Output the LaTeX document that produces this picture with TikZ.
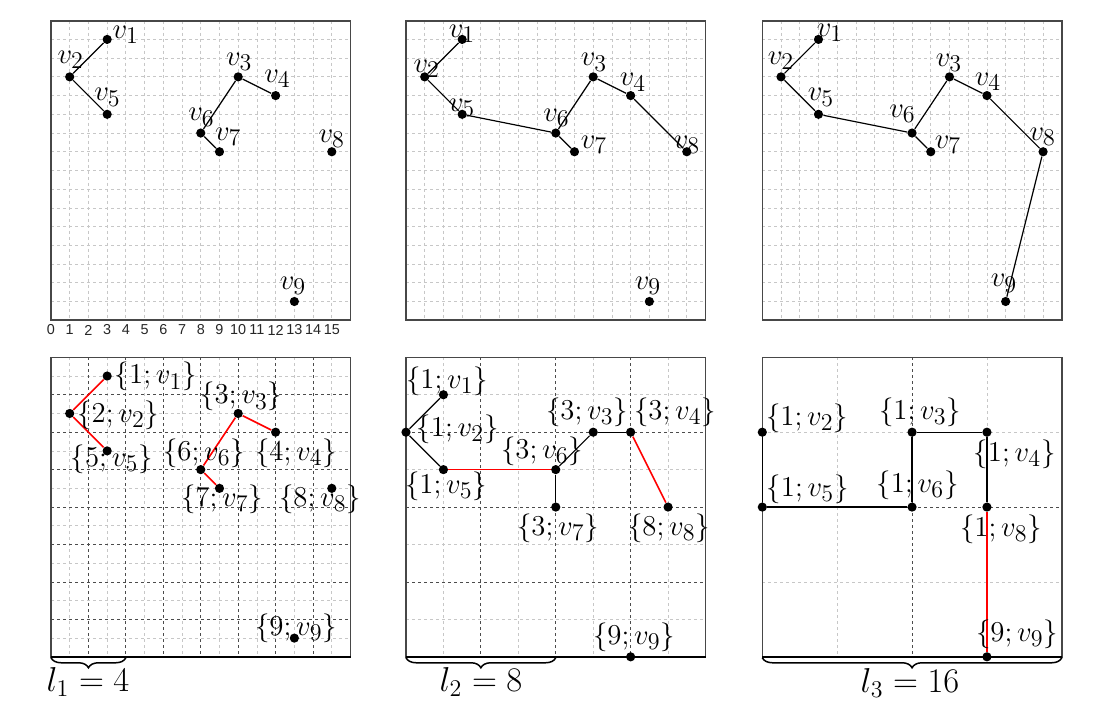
\documentclass[tikz,border=0pt]{standalone}
\usepackage{fontspec}
\newfontfamily\axfont{Liberation Sans}
\DeclareMathSizes{15.5}{15.5}{12}{9}
\DeclareMathSizes{16}{16}{12.5}{9.5}
\usetikzlibrary{decorations.pathreplacing}
\begin{document}
\begin{tikzpicture}[x=0.5pt,y=-0.5pt,
  dot/.style={circle,fill=black,inner sep=0pt,minimum size=4.6pt},
  lgrid/.style={draw=black!22,dash pattern=on 1.5pt off 1.5pt,line width=0.4pt},
  dgrid/.style={draw=black!70,dash pattern=on 1.5pt off 1.5pt,line width=0.4pt},
  frame/.style={draw=black!72,line width=0.8pt},
  bedge/.style={draw=black,line width=0.6pt},
  redge/.style={draw=red,line width=0.8pt},
  vlab/.style={inner sep=0pt,font={\fontsize{15.5}{18}\selectfont}},
  axlab/.style={inner sep=0pt,font={\axfont\fontsize{7.2}{8}\selectfont},text=black!85},
  brc/.style={decorate,decoration={brace,amplitude=5pt,mirror},line width=0.75pt},
  llab/.style={inner sep=0pt,font={\fontsize{16}{19}\selectfont}}
]
\useasboundingbox (0,0) rectangle (1115,708);

% ---------------- top-left ----------------
\begin{scope}[shift={(51,20.7)},x=9.36pt,y=-9.36pt]
  \foreach \i in {1,...,15} {\draw[lgrid] (\i,0) -- (\i,16); \draw[lgrid] (0,\i) -- (16,\i);}
  \draw[frame] (0,0) rectangle (16,16);
  \node[dot] (ta1) at (3,1) {};
  \node[dot] (ta2) at (1,3) {};
  \node[dot] (ta3) at (10,3) {};
  \node[dot] (ta4) at (12,4) {};
  \node[dot] (ta5) at (3,5) {};
  \node[dot] (ta6) at (8,6) {};
  \node[dot] (ta7) at (9,7) {};
  \node[dot] (ta8) at (15,7) {};
  \node[dot] (ta9) at (13,15) {};
  \draw[bedge] (ta1) -- (ta2);
  \draw[bedge] (ta2) -- (ta5);
  \draw[bedge] (ta3) -- (ta4);
  \draw[bedge] (ta3) -- (ta6);
  \draw[bedge] (ta6) -- (ta7);
\end{scope}
\foreach \k in {0,...,15} {\node[axlab] (ax\k) at ({51+18.72*\k},330) {\k};}
\node[vlab] (ta1l) at (125.8,34.7) {$v_1$};
\node[vlab] (ta2l) at (70.8,60) {$v_2$};
\node[vlab] (ta5l) at (107.5,97.5) {$v_5$};
\node[vlab] (ta3l) at (239.2,61.7) {$v_3$};
\node[vlab] (ta4l) at (277.5,79) {$v_4$};
\node[vlab] (ta6l) at (201.5,117.5) {$v_6$};
\node[vlab] (ta7l) at (228.3,136.7) {$v_7$};
\node[vlab] (ta8l) at (331.7,139) {$v_8$};
\node[vlab] (ta9l) at (293,285.8) {$v_9$};

% ---------------- top-middle ----------------
\begin{scope}[shift={(406,20.7)},x=9.36pt,y=-9.36pt]
  \foreach \i in {1,...,15} {\draw[lgrid] (\i,0) -- (\i,16); \draw[lgrid] (0,\i) -- (16,\i);}
  \draw[frame] (0,0) rectangle (16,16);
  \node[dot] (tb1) at (3,1) {};
  \node[dot] (tb2) at (1,3) {};
  \node[dot] (tb3) at (10,3) {};
  \node[dot] (tb4) at (12,4) {};
  \node[dot] (tb5) at (3,5) {};
  \node[dot] (tb6) at (8,6) {};
  \node[dot] (tb7) at (9,7) {};
  \node[dot] (tb8) at (15,7) {};
  \node[dot] (tb9) at (13,15) {};
  \draw[bedge] (tb1) -- (tb2);
  \draw[bedge] (tb2) -- (tb5);
  \draw[bedge] (tb5) -- (tb6);
  \draw[bedge] (tb6) -- (tb3);
  \draw[bedge] (tb3) -- (tb4);
  \draw[bedge] (tb4) -- (tb8);
  \draw[bedge] (tb6) -- (tb7);
\end{scope}
\node[vlab] (tb1l) at (462,34) {$v_1$};
\node[vlab] (tb2l) at (426.7,69) {$v_2$};
\node[vlab] (tb5l) at (462,108) {$v_5$};
\node[vlab] (tb6l) at (556.5,118) {$v_6$};
\node[vlab] (tb7l) at (594,145) {$v_7$};
\node[vlab] (tb3l) at (594,62.5) {$v_3$};
\node[vlab] (tb4l) at (633,82.5) {$v_4$};
\node[vlab] (tb8l) at (687,145) {$v_8$};
\node[vlab] (tb9l) at (648,286) {$v_9$};

% ---------------- top-right ----------------
\begin{scope}[shift={(762.3,20.7)},x=9.36pt,y=-9.36pt]
  \foreach \i in {1,...,15} {\draw[lgrid] (\i,0) -- (\i,16); \draw[lgrid] (0,\i) -- (16,\i);}
  \draw[frame] (0,0) rectangle (16,16);
  \node[dot] (tc1) at (3,1) {};
  \node[dot] (tc2) at (1,3) {};
  \node[dot] (tc3) at (10,3) {};
  \node[dot] (tc4) at (12,4) {};
  \node[dot] (tc5) at (3,5) {};
  \node[dot] (tc6) at (8,6) {};
  \node[dot] (tc7) at (9,7) {};
  \node[dot] (tc8) at (15,7) {};
  \node[dot] (tc9) at (13,15) {};
  \draw[bedge] (tc1) -- (tc2);
  \draw[bedge] (tc2) -- (tc5);
  \draw[bedge] (tc5) -- (tc6);
  \draw[bedge] (tc6) -- (tc3);
  \draw[bedge] (tc3) -- (tc4);
  \draw[bedge] (tc4) -- (tc8);
  \draw[bedge] (tc8) -- (tc9);
  \draw[bedge] (tc6) -- (tc7);
\end{scope}
\node[vlab] (tc1l) at (830,33) {$v_1$};
\node[vlab] (tc2l) at (781,61) {$v_2$};
\node[vlab] (tc5l) at (821,97.5) {$v_5$};
\node[vlab] (tc6l) at (902.5,114) {$v_6$};
\node[vlab] (tc7l) at (948,145) {$v_7$};
\node[vlab] (tc3l) at (949,63) {$v_3$};
\node[vlab] (tc4l) at (988,82) {$v_4$};
\node[vlab] (tc8l) at (1042.7,136.7) {$v_8$};
\node[vlab] (tc9l) at (1004,283.3) {$v_9$};

% ---------------- bottom-left ----------------
\begin{scope}[shift={(51,357.3)},x=9.36pt,y=-9.36pt]
  \foreach \i in {1,...,15} {\draw[lgrid] (\i,0) -- (\i,16); \draw[lgrid] (0,\i) -- (16,\i);}
  \foreach \i in {2,4,...,14} {\draw[dgrid] (\i,0) -- (\i,16); \draw[dgrid] (0,\i) -- (16,\i);}
  \draw[frame] (0,0) rectangle (16,16);
  \draw[line width=0.8pt] (0,16) -- (16,16);
  \node[dot] (ba1) at (3,1) {};
  \node[dot] (ba2) at (1,3) {};
  \node[dot] (ba3) at (10,3) {};
  \node[dot] (ba4) at (12,4) {};
  \node[dot] (ba5) at (3,5) {};
  \node[dot] (ba6) at (8,6) {};
  \node[dot] (ba7) at (9,7) {};
  \node[dot] (ba8) at (15,7) {};
  \node[dot] (ba9) at (13,15) {};
  \draw[redge] (ba1) -- (ba2);
  \draw[redge] (ba2) -- (ba5);
  \draw[redge] (ba3) -- (ba4);
  \draw[redge] (ba3) -- (ba6);
  \draw[redge] (ba6) -- (ba7);
  \coordinate (bal) at (0,16.05);
  \coordinate (bar) at (4,16.05);
  \draw[brc] (bal) -- (bar);
\end{scope}
\node[vlab] (ba1l) at (155.8,376.7) {$\{1; v_1\}$};
\node[vlab] (ba2l) at (118.3,414.8) {$\{2; v_2\}$};
\node[vlab] (ba3l) at (241.3,396.7) {$\{3; v_3\}$};
\node[vlab] (ba5l) at (111.7,459) {$\{5; v_5\}$};
\node[vlab] (ba6l) at (204,453) {$\{6; v_6\}$};
\node[vlab] (ba4l) at (296,453) {$\{4; v_4\}$};
\node[vlab] (ba7l) at (222,499) {$\{7; v_7\}$};
\node[vlab] (ba8l) at (320,499) {$\{8; v_8\}$};
\node[vlab] (ba9l) at (296,628) {$\{9; v_9\}$};
\node[llab] (l1) at (88,682) {$l_1 = 4$};

% ---------------- bottom-middle ----------------
\begin{scope}[shift={(406,357.3)},x=9.36pt,y=-9.36pt]
  \foreach \i in {2,6,10,14} {\draw[lgrid] (\i,0) -- (\i,16); \draw[lgrid] (0,\i) -- (16,\i);}
  \foreach \i in {4,8,12} {\draw[dgrid] (\i,0) -- (\i,16); \draw[dgrid] (0,\i) -- (16,\i);}
  \draw[frame] (0,0) rectangle (16,16);
  \draw[line width=0.8pt] (0,16) -- (16,16);
  \node[dot] (bb1) at (2,2) {};
  \node[dot] (bb2) at (0,4) {};
  \node[dot] (bb3) at (10,4) {};
  \node[dot] (bb4) at (12,4) {};
  \node[dot] (bb5) at (2,6) {};
  \node[dot] (bb6) at (8,6) {};
  \node[dot] (bb7) at (8,8) {};
  \node[dot] (bb8) at (14,8) {};
  \node[dot] (bb9) at (12,16) {};
  \draw[bedge] (bb1) -- (bb2);
  \draw[bedge] (bb2) -- (bb5);
  \draw[redge] (bb5) -- (bb6);
  \draw[bedge] (bb6) -- (bb7);
  \draw[bedge] (bb6) -- (bb3);
  \draw[bedge] (bb3) -- (bb4);
  \draw[redge] (bb4) -- (bb8);
  \coordinate (bbl) at (0,16.05);
  \coordinate (bbr) at (8,16.05);
  \draw[brc] (bbl) -- (bbr);
\end{scope}
\node[vlab] (bb1l) at (447,381) {$\{1; v_1\}$};
\node[vlab] (bb2l) at (457.5,429) {$\{1; v_2\}$};
\node[vlab] (bb5l) at (446,486) {$\{1; v_5\}$};
\node[vlab] (bb6l) at (542,451) {$\{3; v_6\}$};
\node[vlab] (bb7l) at (558,528) {$\{3; v_7\}$};
\node[vlab] (bb3l) at (587,412) {$\{3; v_3\}$};
\node[vlab] (bb4l) at (675,412) {$\{3; v_4\}$};
\node[vlab] (bb8l) at (669,528) {$\{8; v_8\}$};
\node[vlab] (bb9l) at (634,637) {$\{9; v_9\}$};
\node[llab] (l2) at (481,682) {$l_2 = 8$};

% ---------------- bottom-right ----------------
\begin{scope}[shift={(762.3,357.3)},x=9.36pt,y=-9.36pt]
  \foreach \i in {4,12} {\draw[lgrid] (\i,0) -- (\i,16); \draw[lgrid] (0,\i) -- (16,\i);}
  \foreach \i in {8} {\draw[dgrid] (\i,0) -- (\i,16); \draw[dgrid] (0,\i) -- (16,\i);}
  \draw[frame] (0,0) rectangle (16,16);
  \draw[line width=0.8pt] (0,16) -- (16,16);
  \node[dot] (bc2) at (0,4) {};
  \node[dot] (bc3) at (8,4) {};
  \node[dot] (bc4) at (12,4) {};
  \node[dot] (bc5) at (0,8) {};
  \node[dot] (bc6) at (8,8) {};
  \node[dot] (bc8) at (12,8) {};
  \node[dot] (bc9) at (12,16) {};
  \draw[bedge] (bc2) -- (bc5);
  \draw[bedge] (bc5) -- (bc6);
  \draw[bedge] (bc6) -- (bc3);
  \draw[bedge] (bc3) -- (bc4);
  \draw[bedge] (bc4) -- (bc8);
  \draw[redge] (bc8) -- (bc9);
  \coordinate (bcl) at (0,16.05);
  \coordinate (bcr) at (16,16.05);
  \draw[brc] (bcl) -- (bcr);
\end{scope}
\node[vlab] (bc2l) at (807,418) {$\{1; v_2\}$};
\node[vlab] (bc3l) at (920,412) {$\{1; v_3\}$};
\node[vlab] (bc4l) at (1014.5,454) {$\{1; v_4\}$};
\node[vlab] (bc5l) at (807.5,489) {$\{1; v_5\}$};
\node[vlab] (bc6l) at (917.5,485) {$\{1; v_6\}$};
\node[vlab] (bc8l) at (1001,529) {$\{1; v_8\}$};
\node[vlab] (bc9l) at (1017,634) {$\{9; v_9\}$};
\node[llab] (l3) at (910,683) {$l_3 = 16$};
\end{tikzpicture}
\end{document}
